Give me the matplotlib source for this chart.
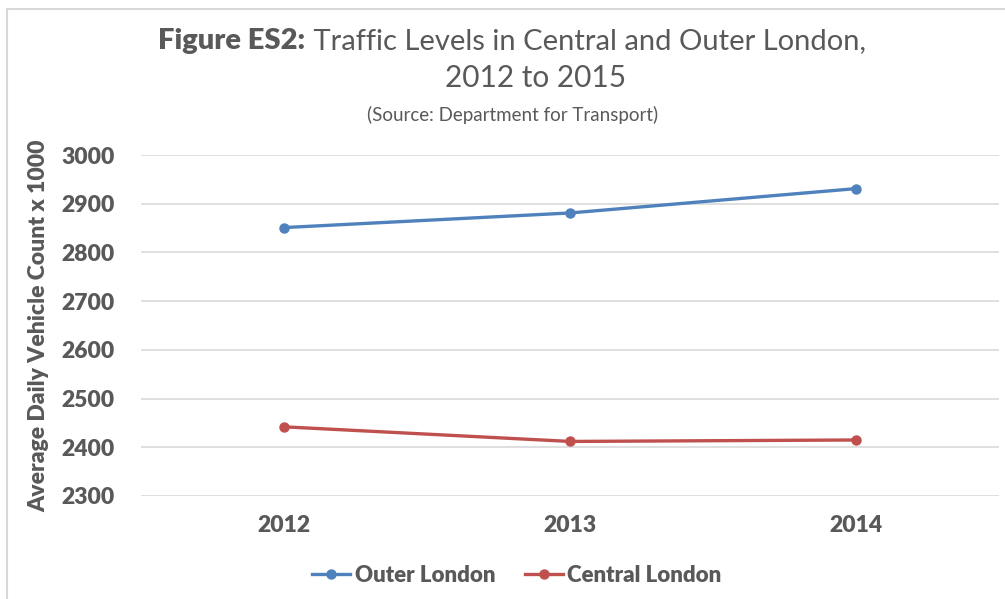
import matplotlib
matplotlib.use("Agg")
from matplotlib import pyplot as plt
from matplotlib.patches import Rectangle

years = ["2012", "2013", "2014"]
outer_london = [2851, 2881, 2931]
central_london = [2442, 2412, 2415]
y_ticks = [2300, 2400, 2500, 2600, 2700, 2800, 2900, 3000]

txt = "#595959"
grid = "#d9d9d9"
bw = 800  # heavier than Lato's "bold" to look like Calibri bold
plt.rcParams["font.family"] = ["Lato", "DejaVu Sans"]

fig = plt.figure(figsize=(10.05, 5.99), dpi=100)
ax = fig.add_axes([141/1005, 1 - 496/599, 858/1005, 341/599])

xs = list(range(len(years)))
ax.plot(xs, outer_london, color="#4f81bd", lw=2.4, marker="o", ms=6.5, label="Outer London")
ax.plot(xs, central_london, color="#c0504d", lw=2.4, marker="o", ms=6.5, label="Central London")

ax.set_xlim(-0.5, 2.5)
ax.set_ylim(2300, 3000)
ax.set_yticks(y_ticks)
ax.set_xticks(xs)
ax.set_xticklabels(years)
ax.yaxis.grid(True, color=grid, lw=1.2)
ax.set_axisbelow(True)
for s in ax.spines.values():
    s.set_visible(False)
ax.tick_params(length=0, labelcolor=txt, labelsize=16.5)
ax.tick_params(axis="y", pad=19)
ax.tick_params(axis="x", pad=14)
for lab in ax.get_xticklabels() + ax.get_yticklabels():
    lab.set_fontweight(bw)
ax.set_ylabel("Average Daily Vehicle Count x 1000", fontsize=16.5, fontweight=bw, color=txt)
ax.yaxis.set_label_coords(-92/858, 0.50)

# title in two weights
ty = 1 - 41/599
tb = fig.text(0.5, ty, "Figure ES2:", ha="left", va="center", fontsize=21, fontweight=bw, color=txt)
t1 = fig.text(0.5, ty, " Traffic Levels in Central and Outer London,", ha="left", va="center",
              fontsize=21, color=txt)
fig.canvas.draw()
r = fig.canvas.get_renderer()
w_bold = tb.get_window_extent(r).width
w_reg = t1.get_window_extent(r).width
left = 512 - (w_bold + w_reg) / 2
tb.set_x(left / 1005)
t1.set_x((left + w_bold) / 1005)
fig.text(536/1005, 1 - 78/599, "2012 to 2015", ha="center", va="center", fontsize=21.5, color=txt)
fig.text(513/1005, 1 - 115/599, "(Source: Department for Transport)", ha="center", va="center", fontsize=13.5, color=txt)

leg = fig.legend(loc="center", bbox_to_anchor=(517/1005, 1 - 575/599), ncol=2, frameon=False,
                 handlelength=1.7, handletextpad=0.2, columnspacing=1.35,
                 prop={"weight": bw, "size": 16})
for t in leg.get_texts():
    t.set_color(txt)

fig.patches.append(Rectangle((7/1005, -0.1), 1.2, 1 - 9/599 + 0.1, transform=fig.transFigure,
                             fill=False, edgecolor=grid, lw=1.5, figure=fig))

fig.savefig("out.png", dpi=100)
